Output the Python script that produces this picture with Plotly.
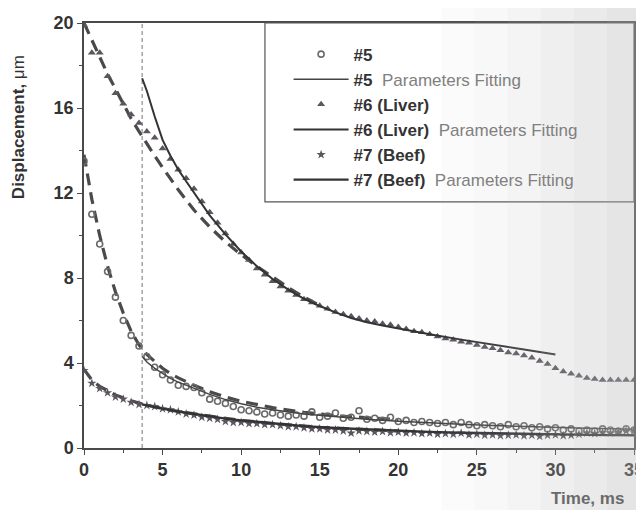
import plotly.graph_objects as go

# ---------------- data ----------------
time_ms = [0, 0.5, 1, 1.5, 2, 2.5, 3, 3.5, 4, 4.5, 5, 5.5, 6, 6.5, 7, 7.5, 8, 8.5, 9, 9.5,
           10, 10.5, 11, 11.5, 12, 12.5, 13, 13.5, 14, 14.5, 15, 15.5, 16, 16.5, 17, 17.5,
           18, 18.5, 19, 19.5, 20, 20.5, 21, 21.5, 22, 22.5, 23, 23.5, 24, 24.5, 25, 25.5,
           26, 26.5, 27, 27.5, 28, 28.5, 29, 29.5, 30, 30.5, 31, 31.5, 32, 32.5, 33, 33.5,
           34, 34.5, 35]

s5_disp = [13.5, 11.0, 9.6, 8.3, 7.1, 6.0, 5.3, 4.8, 4.3, 3.8, 3.45, 3.2, 2.95, 2.9, 2.85, 2.6,
           2.3, 2.2, 2.1, 1.95, 1.8, 1.75, 1.7, 1.6, 1.65, 1.55, 1.5, 1.55, 1.5, 1.7, 1.45, 1.5,
           1.65, 1.4, 1.45, 1.75, 1.35, 1.4, 1.3, 1.45, 1.25, 1.3, 1.2, 1.25, 1.2, 1.15, 1.2, 1.1,
           1.2, 1.1, 1.05, 1.1, 1.05, 1.0, 1.1, 1.0, 1.05, 0.95, 1.0, 0.9, 0.95, 0.85, 0.9, 0.8,
           0.85, 0.8, 0.9, 0.85, 0.8, 0.9, 0.85]

s6_disp = [19.9, 18.6, 18.6, 17.5, 16.7, 16.2, 15.7, 15.3, 14.9, 14.6, 14.1, 13.6, 13.1, 12.7,
           12.2, 11.6, 11.1, 10.6, 10.1, 9.6, 9.2, 8.85, 8.45, 8.15, 7.85, 7.6, 7.4, 7.2, 7.0,
           6.85, 6.7, 6.55, 6.4, 6.3, 6.2, 6.1, 6.0, 5.95, 5.85, 5.8, 5.7, 5.6, 5.5, 5.45, 5.35,
           5.25, 5.15, 5.1, 5.0, 4.95, 4.85, 4.75, 4.7, 4.6, 4.5, 4.45, 4.35, 4.25, 4.1, 3.95,
           3.75, 3.6, 3.5, 3.4, 3.3, 3.25, 3.2, 3.2, 3.2, 3.2, 3.2]

s7_disp = [3.65, 3.05, 2.8, 2.6, 2.4, 2.3, 2.15, 2.05, 2.0, 1.95, 1.85, 1.8, 1.7, 1.6, 1.55, 1.45,
           1.4, 1.35, 1.25, 1.2, 1.2, 1.15, 1.15, 1.1, 1.1, 1.05, 1.0, 1.0, 0.95, 0.9, 0.9, 0.85,
           0.85, 0.8, 0.7, 0.8, 0.78, 0.75, 0.78, 0.72, 0.75, 0.7, 0.72, 0.68, 0.7, 0.65, 0.68,
           0.65, 0.7, 0.62, 0.65, 0.6, 0.62, 0.58, 0.6, 0.62, 0.58, 0.6, 0.55, 0.6, 0.62, 0.58,
           0.6, 0.65, 0.7, 0.68, 0.72, 0.7, 0.75, 0.8, 0.82]

# parameter fittings starting at the cut-off time (solid lines)
cutoff_time = 3.7
s5_fit_t = [3.7, 4.0, 4.5, 5, 5.5, 6, 7, 8, 9, 10, 11, 12, 14, 16, 18, 20, 22, 24, 26, 28, 30, 32, 35]
s5_fit = [4.3, 4.05, 3.75, 3.5, 3.28, 3.1, 2.8, 2.52, 2.28, 2.08, 1.92, 1.8, 1.6, 1.46, 1.35,
          1.26, 1.18, 1.12, 1.06, 1.01, 0.97, 0.93, 0.88]
s6_fit_t = [3.7, 4.0, 4.5, 5.0, 5.5, 6.0, 6.5, 7.0, 7.5, 8.0, 9.0, 10.0, 11.0, 12.0, 13.0, 14.0,
            15.0, 16.0, 17.0, 18.0, 19.0, 20.0, 22.0, 24.0, 26.0, 28.0, 30.0]
s6_fit = [17.4, 16.8, 15.6, 14.5, 13.75, 13.1, 12.55, 12.0, 11.45, 10.95, 10.05, 9.25, 8.55, 7.95,
          7.45, 7.02, 6.68, 6.38, 6.12, 5.92, 5.76, 5.62, 5.35, 5.1, 4.88, 4.64, 4.4]
s7_fit_t = [3.7, 4, 5, 6, 7, 8, 9, 10, 12, 14, 16, 18, 20, 22, 24, 26, 28, 30, 32, 35]
s7_fit = [2.05, 2.0, 1.85, 1.72, 1.6, 1.48, 1.38, 1.3, 1.15, 1.03, 0.94, 0.87, 0.81, 0.76, 0.72,
          0.69, 0.66, 0.64, 0.62, 0.6]

# fittings over the whole record (dashed lines)
s5_dash_t = [0, 0.5, 1, 1.5, 2, 2.5, 3, 3.5, 4, 4.5, 5, 5.5, 6, 7, 8, 9, 10, 12, 14, 16, 18, 20]
s5_dash = [13.8, 11.7, 10.0, 8.55, 7.35, 6.35, 5.5, 4.85, 4.4, 4.05, 3.75, 3.5, 3.3, 2.95, 2.65,
           2.4, 2.2, 1.9, 1.68, 1.52, 1.42, 1.33]
s6_dash_t = [0, 0.5, 1, 1.5, 2, 2.5, 3, 3.5, 4, 4.5, 5, 5.5, 6, 7, 8, 9, 10, 11, 12, 13, 14, 15]
s6_dash = [20.0, 19.2, 18.4, 17.6, 16.9, 16.2, 15.5, 14.9, 14.3, 13.75, 13.2, 12.65, 12.15, 11.2,
           10.4, 9.7, 9.1, 8.55, 8.05, 7.55, 7.1, 6.7]
s7_dash_t = [0, 0.5, 1, 1.5, 2, 3, 4, 5, 6, 8, 10, 12, 15, 20]
s7_dash = [3.7, 3.2, 2.9, 2.68, 2.5, 2.22, 2.02, 1.86, 1.72, 1.5, 1.3, 1.15, 0.97, 0.8]

x_ticks = [0, 5, 10, 15, 20, 25, 30, 35]
y_ticks = [0, 4, 8, 12, 16, 20]

# ---------------- figure ----------------
FONT = "Liberation Sans, Arial, sans-serif"
INK = "#333333"
MARK = "#5c5560"
DASH = "12px,7px"
GREY = "#808080"

fig = go.Figure()

def lbl(main, rest=""):
    if rest:
        return f"<b>{main}</b>  <span style='color:{GREY}'>{rest}</span>"
    return f"<b>{main}</b>"

# dashed whole-record fits (no legend)
for t, v in [(s5_dash_t, s5_dash), (s6_dash_t, s6_dash), (s7_dash_t, s7_dash)]:
    fig.add_trace(go.Scatter(x=t, y=v, mode="lines", showlegend=False, hoverinfo="skip",
                             line=dict(color="#4a4a4a", width=3.2, dash=DASH)))

fig.add_trace(go.Scatter(x=time_ms, y=s5_disp, mode="markers", name=lbl("#5"), legendgroup="a",
                         marker=dict(symbol="circle-open", size=6, color="#6a6a6a",
                                     line=dict(width=1.6, color="#6a6a6a"))))
fig.add_trace(go.Scatter(x=s5_fit_t, y=s5_fit, mode="lines", name=lbl("#5", "Parameters Fitting"),
                         legendgroup="b", line=dict(color="#444444", width=1.4)))
fig.add_trace(go.Scatter(x=time_ms, y=s6_disp, mode="markers", name=lbl("#6 (Liver)"), legendgroup="c",
                         marker=dict(symbol="triangle-up", size=7, color=MARK)))
fig.add_trace(go.Scatter(x=s6_fit_t, y=s6_fit, mode="lines", name=lbl("#6 (Liver)", "Parameters Fitting"),
                         legendgroup="d", line=dict(color=INK, width=2)))
fig.add_trace(go.Scatter(x=time_ms, y=s7_disp, mode="markers", name=lbl("#7 (Beef)"), legendgroup="e",
                         marker=dict(symbol="star", size=7, color=MARK)))
fig.add_trace(go.Scatter(x=s7_fit_t, y=s7_fit, mode="lines", name=lbl("#7 (Beef)", "Parameters Fitting"),
                         legendgroup="f", line=dict(color=INK, width=2.4)))

# vertical dashed cut-off line
fig.add_shape(type="line", xref="x", yref="y", x0=cutoff_time, x1=cutoff_time, y0=0, y1=20,
              line=dict(color="#777777", width=1, dash="4px,3px"), layer="below")

# legend frame
fig.add_shape(type="rect", xref="paper", yref="paper", x0=0.329, x1=1.0, y0=0.579, y1=1.0,
              line=dict(color="#555555", width=1.2), fillcolor="rgba(0,0,0,0)")

# fading of the photographed page towards the right
fade = [(0.65, 0.71, 0.05), (0.71, 0.77, 0.10), (0.77, 0.83, 0.16), (0.83, 0.89, 0.23),
        (0.89, 0.95, 0.30), (0.95, 1.01, 0.37), (1.01, 1.03, 0.42)]
for x0, x1, op in fade:
    fig.add_shape(type="rect", xref="paper", yref="paper", x0=x0, x1=x1, y0=-0.15, y1=1.06,
                  line=dict(width=0), fillcolor="#b8b8b8", opacity=op, layer="above")

axis_common = dict(showline=True, linecolor="#4a4a4a", linewidth=1.5, mirror=True,
                   ticks="outside", ticklen=5, tickwidth=1.3, tickcolor="#4a4a4a",
                   showgrid=False, zeroline=False, automargin=False,
                   ticklabeloverflow="allow",
                   tickfont=dict(family=FONT, size=18, color=INK, weight="bold"))

fig.update_xaxes(range=[0, 35], tickvals=x_ticks,
                 minor=dict(dtick=2.5, ticklen=3, ticks="outside", tickcolor="#4a4a4a"),
                 **axis_common)
fig.update_yaxes(range=[0, 20], tickvals=y_ticks,
                 minor=dict(dtick=2, ticklen=3, ticks="outside", tickcolor="#4a4a4a"),
                 **axis_common)

fig.add_annotation(text="<b>Displacement,</b> μm", xref="paper", yref="paper",
                   x=-0.12, y=0.755, textangle=-90, showarrow=False,
                   xanchor="center", yanchor="middle",
                   font=dict(family=FONT, size=17, color=INK))
fig.add_annotation(text="<b>Time, ms</b>", xref="paper", yref="paper",
                   x=0.915, y=-0.118, showarrow=False, xanchor="center", yanchor="middle",
                   font=dict(family=FONT, size=17, color="#6a6a6a"))

# the page body adds an 8px offset, so the figure is 8px smaller on each axis
fig.update_layout(
    width=636, height=502,
    margin=dict(l=76, r=10, t=15, b=62, autoexpand=False),
    paper_bgcolor="white", plot_bgcolor="white",
    showlegend=True,
    legend=dict(x=0.372, y=0.968, xanchor="left", yanchor="top",
                bgcolor="rgba(0,0,0,0)", borderwidth=0, itemwidth=55,
                tracegroupgap=2, traceorder="normal",
                font=dict(family=FONT, size=17, color=INK)),
)

fig.write_html("out.html")
